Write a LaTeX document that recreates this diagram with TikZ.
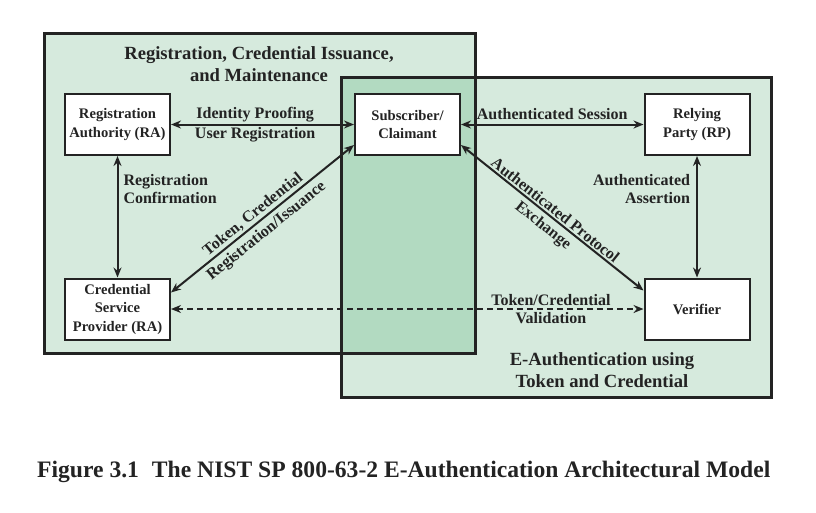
\documentclass[tikz,border=0pt]{standalone}
\usepackage{fontspec}
\setmainfont{Liberation Serif}
\usetikzlibrary{arrows.meta}
\definecolor{lightg}{RGB}{214,234,221}
\definecolor{darkg}{RGB}{178,218,193}
\definecolor{edge}{RGB}{35,35,35}
\begin{document}
\begin{tikzpicture}[x=1pt,y=-1pt,
  box/.style={draw=edge, line width=2pt, fill=white, minimum width=105pt, minimum height=61pt,
    inner sep=0pt, align=center, text=edge, font=\fontsize{14.6}{18.5}\selectfont\bfseries},
  lbl/.style={align=center, inner sep=0pt, text=edge, font=\fontsize{16}{18}\selectfont\bfseries},
  ttl/.style={align=center, inner sep=0pt, text=edge, font=\fontsize{18.6}{22.5}\selectfont\bfseries},
  conn/.style={draw=edge, line width=2pt, {Stealth[length=10pt,width=8pt]}-{Stealth[length=10pt,width=8pt]}},
  region/.style={draw=edge, line width=3pt}]
\useasboundingbox (0,0) rectangle (816,512);
% regions
\fill[lightg] (44,33) rectangle (475,353);
\fill[lightg] (341,77) rectangle (771,397);
\fill[darkg] (341,77) rectangle (475,353);
\draw[region] (44,33) rectangle (475,353);
\draw[region] (341,77) rectangle (771,397);
% titles
\node[ttl] (t1) at (259,64) {Registration, Credential Issuance,\\and Maintenance};
\node[ttl] (t2) at (602,370) {E-Authentication using\\Token and Credential};
% boxes
\node[box] (ra) at (117.5,124.5) {Registration\\Authority (RA)};
\node[box] (sub) at (407.5,124.5) {Subscriber/\\Claimant};
\node[box] (rp) at (697,124.5) {Relying\\Party (RP)};
\node[box] (ver) at (697,309) {Verifier};
\node[box] (csp) at (117.5,309) {Credential\\Service\\Provider (RA)};
% connectors
\draw[conn] (ra) -- node[lbl, pos=0.46, above=1.5pt]{Identity Proofing} node[lbl, pos=0.46, below=2pt]{User Registration} (sub);
\draw[conn] (sub) -- node[lbl, above=4pt]{Authenticated Session} (rp);
\draw[conn] (ra) -- node[lbl, pos=0.27, anchor=west, xshift=5pt, align=left]{Registration\\Confirmation} (csp);
\draw[conn] (rp) -- node[lbl, pos=0.27, anchor=east, xshift=-6pt, align=right]{Authenticated\\Assertion} (ver);
\draw[conn, dash pattern=on 6pt off 4pt] (csp) -- node[lbl, pos=0.804, above=2pt]{Token/Credential} node[lbl, pos=0.804, below=2.5pt]{Validation} (ver);
\coordinate (c1) at ([yshift=-15pt]csp.north east);
\coordinate (s1) at ([yshift=11pt]sub.south west);
\coordinate (s2) at ([yshift=11pt]sub.south east);
\coordinate (v1) at ([yshift=-13pt]ver.north west);
\draw[conn] (c1) -- node[lbl, sloped, pos=0.48, above=1.5pt]{Token, Credential} node[lbl, sloped, pos=0.48, below=4pt]{Registration/Issuance} (s1);
\draw[conn] (s2) -- node[lbl, sloped, pos=0.49, above=1.5pt]{Authenticated Protocol} node[lbl, sloped, pos=0.49, below=4pt]{Exchange} (v1);
% caption
\node[anchor=base west, inner sep=0pt, text=edge, font=\fontsize{23.6}{28}\selectfont\bfseries] (cap) at (37,477)
  {Figure 3.1\hspace{0.55em}The NIST SP 800-63-2 E-Authentication Architectural Model};
\end{tikzpicture}
\end{document}
